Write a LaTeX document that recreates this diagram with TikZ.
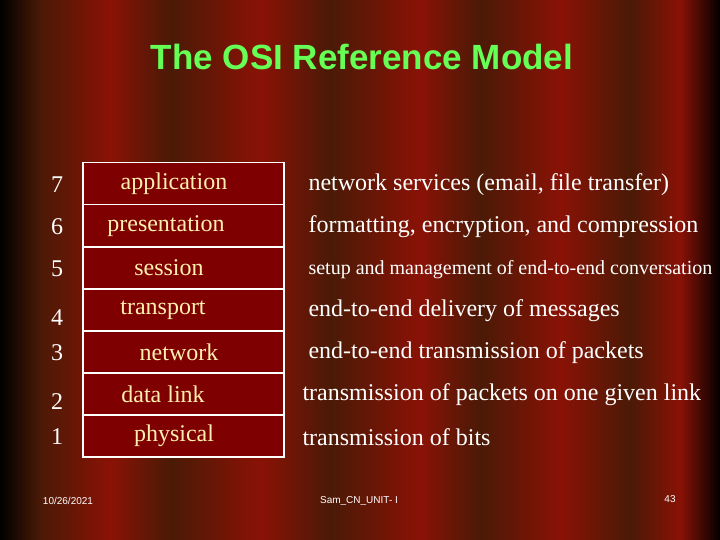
\documentclass[tikz,border=0pt]{standalone}
\usepackage{fontspec}
\setmainfont{Liberation Serif}
\newfontfamily\titlefont{Liberation Sans}
\begin{document}
\begin{tikzpicture}[x=1pt,y=-1pt,
  layer/.style={draw=white,line width=1.5pt,fill=boxred,minimum width=201pt,minimum height=42pt,anchor=north west,inner sep=0pt},
  lname/.style={text=cream,font=\fontsize{24}{24}\selectfont},
  num/.style={text=white,font=\fontsize{24}{24}\selectfont},
  desc/.style={text=white,font=\fontsize{24}{24}\selectfont,anchor=west},
  foot/.style={text=white,font=\titlefont\fontsize{10}{10}\selectfont}]
\definecolor{boxred}{HTML}{7E0000}
\definecolor{cream}{HTML}{FFEFB0}
\definecolor{cdark}{HTML}{4A1A06}
\definecolor{cred}{HTML}{8A1206}
\definecolor{tgreen}{HTML}{66FF55}
\useasboundingbox (0,0) rectangle (720,540);
\fill[black] (0,0) rectangle (720,540);
\foreach \a/\b/\ca/\cb in {0/40/black/cdark,40/110/cdark/cred,110/170/cred/cdark,170/260/cdark/cred,260/330/cred/cdark,330/420/cdark/cred,420/480/cred/cdark,480/560/cdark/cred,560/630/cred/cdark,630/680/cdark/cred,680/720/cred/black}
  \shade[left color=\ca,right color=\cb] (\a,0) rectangle (\b+0.5,540);
\node[text=tgreen,font=\titlefont\bfseries\fontsize{35}{35}\selectfont] (title) at (362,57) {The OSI Reference Model};
\foreach \i in {1,...,7}
  \node[layer] (b\i) at (82,{162+(\i-1)*42}) {};
\foreach \i/\l/\lx in {1/application/174,2/presentation/166,3/session/169,4/transport/163,5/network/179,6/data link/163,7/physical/174}
  \node[lname] (l\i) at (\lx,{184+(\i-1)*42}) {\l};
\node[num] (n7) at (57,185) {7};
\node[num] (n6) at (57,227) {6};
\node[num] (n5) at (57,269) {5};
\node[num] (n4) at (57,318) {4};
\node[num] (n3) at (57,353) {3};
\node[num] (n2) at (57,402) {2};
\node[num] (n1) at (57,437) {1};
\node[desc] (d7) at (305,185) {network services (email, file transfer)};
\node[desc] (d6) at (305,227) {formatting, encryption, and compression};
\node[desc,font=\fontsize{20}{20}\selectfont] (d5) at (305,270) {setup and management of end-to-end conversation};
\node[desc] (d4) at (305,311) {end-to-end delivery of messages};
\node[desc] (d3) at (305,353) {end-to-end transmission of packets};
\node[desc] (d2) at (299,395) {transmission of packets on one given link};
\node[desc] (d1) at (299,437) {transmission of bits};
\node[foot] (f1) at (68,501) {10/26/2021};
\node[foot] (f2) at (359,501) {Sam\_CN\_UNIT- I};
\node[foot] (f3) at (670,499) {43};
\end{tikzpicture}
\end{document}
